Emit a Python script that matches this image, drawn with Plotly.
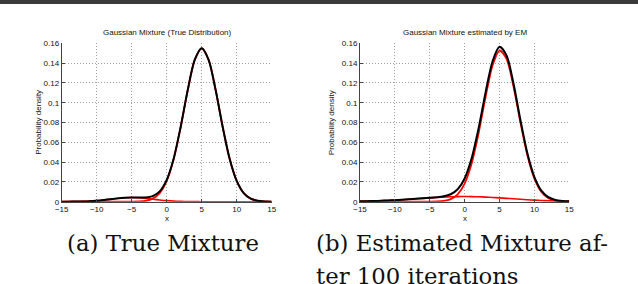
import plotly.graph_objects as go

# ---------------- data ----------------
x_vals = list(range(-15, 16))

# (a) true mixture
true_major = [0, 0, 0, 0, 0, 0, 0, 0, 0, 0.00001, 0.00005, 0.00024, 0.00093, 0.00308, 0.0087,
              0.0210, 0.0431, 0.0755, 0.1125, 0.1431, 0.1550, 0.1431, 0.1125, 0.0755, 0.0431,
              0.0210, 0.0087, 0.00308, 0.00093, 0.00024, 0.00005]
true_minor = [0.00002, 0.00005, 0.00012, 0.00028, 0.00057, 0.00105, 0.00173, 0.00255, 0.00336,
              0.00397, 0.00420, 0.00397, 0.00336, 0.00255, 0.00173, 0.00105, 0.00057, 0.00028,
              0.00012, 0.00005, 0.00002, 0, 0, 0, 0, 0, 0, 0, 0, 0, 0]
true_mix = [0.00002, 0.00005, 0.00012, 0.00028, 0.00057, 0.00105, 0.00173, 0.00255, 0.00336,
            0.00398, 0.00425, 0.00421, 0.00429, 0.00563, 0.01043, 0.02205, 0.04367, 0.07578,
            0.11262, 0.14315, 0.15502, 0.1431, 0.1125, 0.0755, 0.0431, 0.0210, 0.0087,
            0.00308, 0.00093, 0.00024, 0.00005]

# (b) mixture estimated by EM
em_major = [0, 0, 0, 0, 0, 0, 0, 0, 0, 0.00001, 0.00004, 0.00019, 0.00075, 0.00256, 0.00742,
            0.0183, 0.0386, 0.0692, 0.1057, 0.1376, 0.1527, 0.1444, 0.1164, 0.0799, 0.0467,
            0.0233, 0.0099, 0.00358, 0.00111, 0.00029, 0.00007]
em_minor = [0.00036, 0.00051, 0.00070, 0.00095, 0.00124, 0.00159, 0.00199, 0.00244, 0.00291,
            0.00340, 0.00387, 0.00430, 0.00467, 0.00496, 0.00514, 0.00520, 0.00514, 0.00496,
            0.00467, 0.00430, 0.00387, 0.00340, 0.00291, 0.00244, 0.00199, 0.00159, 0.00124,
            0.00095, 0.00070, 0.00051, 0.00036]
em_mix = [0.00036, 0.00051, 0.00070, 0.00095, 0.00124, 0.00159, 0.00199, 0.00244, 0.00291,
          0.00341, 0.00391, 0.00449, 0.00542, 0.00752, 0.01256, 0.0235, 0.04374, 0.07416,
          0.11037, 0.1419, 0.15657, 0.1478, 0.11931, 0.08234, 0.04869, 0.02489, 0.01114,
          0.00453, 0.00181, 0.0008, 0.00043]

x_ticks = [-15, -10, -5, 0, 5, 10, 15]
y_ticks = [0, 0.02, 0.04, 0.06, 0.08, 0.1, 0.12, 0.14, 0.16]
y_tick_text = ["0", "0.02", "0.04", "0.06", "0.08", "0.1", "0.12", "0.14", "0.16"]
x_tick_text = ["\u221215", "\u221210", "\u22125", "0", "5", "10", "15"]

titles = ["Gaussian Mixture (True Distribution)", "Gaussian Mixture estimated by EM"]
captions = ["(a) True Mixture", "(b) Estimated Mixture af-", "ter 100 iterations"]

# ---------------- figure ----------------
W, H = 638, 284
fig = go.Figure()

RED = "#ff0000"
BLACK = "#000000"

for xa, ya, series in [("x", "y", (true_major, true_minor, true_mix)),
                       ("x2", "y2", (em_major, em_minor, em_mix))]:
    major, minor, mix = series
    for ys, col, w in [(minor, RED, 1.6), (major, RED, 1.8), (mix, BLACK, 2.0)]:
        fig.add_trace(go.Scatter(x=x_vals, y=ys, mode="lines", xaxis=xa, yaxis=ya,
                                 line=dict(color=col, width=w, shape="spline", smoothing=0.8),
                                 showlegend=False, hoverinfo="skip"))

def px_x(p):
    return p / W

def px_y(p):
    return 1 - p / H

axis_common = dict(showline=True, linecolor="#444", linewidth=1, mirror=False,
                   ticks="inside", ticklen=3, tickcolor="#444",
                   showgrid=True, gridcolor="#a0a0a0", griddash="1px,2px", gridwidth=1,
                   zeroline=False, tickfont=dict(family="Liberation Sans, Arial", size=8, color="#111"))

dom_y = [px_y(201.7), px_y(43.3)]
fig.update_layout(
    xaxis=dict(domain=[px_x(61.7), px_x(271.7)], range=[-15, 15], tickvals=x_ticks,
               ticktext=x_tick_text, anchor="y", **axis_common),
    yaxis=dict(domain=dom_y, range=[0, 0.16], tickvals=y_ticks, ticktext=y_tick_text,
               anchor="x", **axis_common),
    xaxis2=dict(domain=[px_x(360), px_x(569.3)], range=[-15, 15], tickvals=x_ticks,
                ticktext=x_tick_text, anchor="y2", **axis_common),
    yaxis2=dict(domain=dom_y, range=[0, 0.16], tickvals=y_ticks, ticktext=y_tick_text,
                anchor="x2", **axis_common),
    width=W, height=H, margin=dict(l=0, r=0, t=0, b=0, autoexpand=False),
    paper_bgcolor="white", plot_bgcolor="white", showlegend=False,
)

sans = dict(family="Liberation Sans, Arial", size=8, color="#111")
serif = dict(family="DejaVu Serif", size=22.8, color="#111")

ann = []
# titles
ann.append(dict(text=titles[0], x=px_x(167), y=px_y(33), xref="paper", yref="paper",
                showarrow=False, font=sans, xanchor="center", yanchor="middle"))
ann.append(dict(text=titles[1], x=px_x(464.7), y=px_y(33), xref="paper", yref="paper",
                showarrow=False, font=sans, xanchor="center", yanchor="middle"))
# y-axis labels
for xp in (38.3, 331.7):
    ann.append(dict(text="Probability density", x=px_x(xp), y=px_y(122.5), xref="paper",
                    yref="paper", showarrow=False, font=sans, textangle=-90,
                    xanchor="center", yanchor="middle"))
# x-axis labels
for xp in (166.7, 464.7):
    ann.append(dict(text="x", x=px_x(xp), y=px_y(218), xref="paper", yref="paper",
                    showarrow=False, font=sans, xanchor="center", yanchor="middle"))
# captions
ann.append(dict(text=captions[0], x=px_x(162.5), y=px_y(243), xref="paper", yref="paper",
                showarrow=False, font=serif, xanchor="center", yanchor="middle"))
ann.append(dict(text=captions[1], x=px_x(314), y=px_y(243), xref="paper", yref="paper",
                showarrow=False, font=serif, xanchor="left", yanchor="middle"))
ann.append(dict(text=captions[2], x=px_x(314), y=px_y(276), xref="paper", yref="paper",
                showarrow=False, font=serif, xanchor="left", yanchor="middle"))
fig.update_layout(annotations=ann)

# dark rule along the top edge
fig.add_shape(type="rect", xref="paper", yref="paper", x0=0, x1=1, y0=px_y(4), y1=1,
              fillcolor="#3a3a3a", line=dict(width=0), layer="above")

fig.write_html("out.html", config={"displayModeBar": False},
               post_script="document.body.style.margin='0';document.body.style.padding='0';"
                           "document.documentElement.style.margin='0';"
                           "document.body.style.overflow='hidden';")
